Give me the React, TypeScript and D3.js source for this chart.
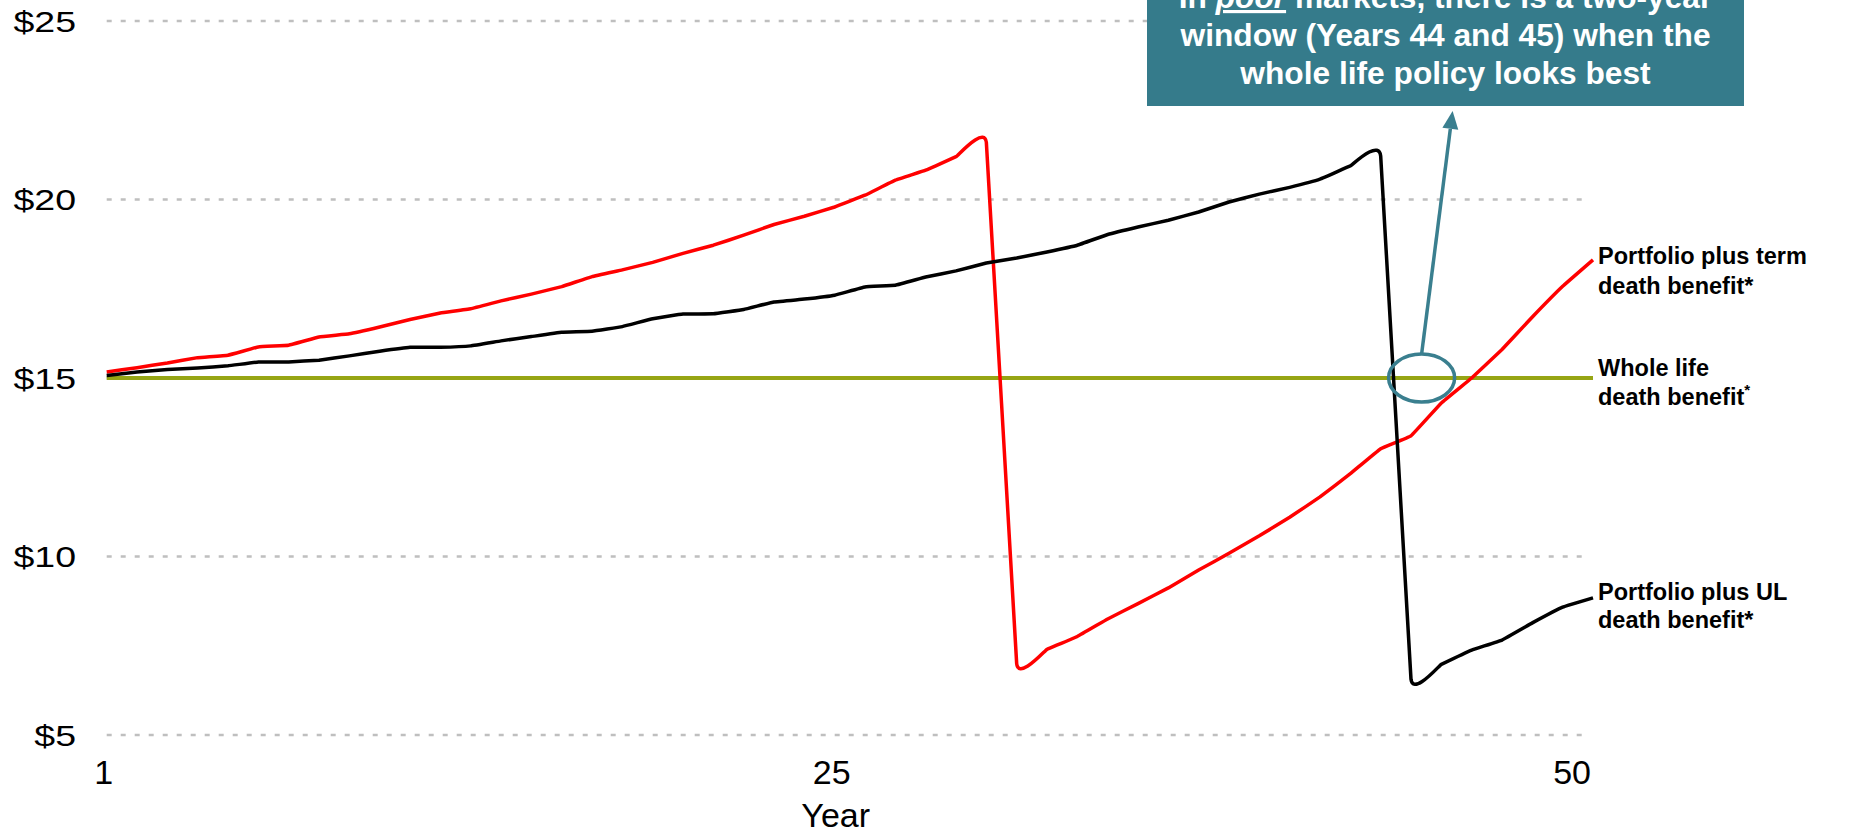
import React from 'react';
import * as d3 from 'd3';

const years = [1, 2, 3, 4, 5, 6, 7, 8, 9, 10, 11, 12, 13, 14, 15, 16, 17, 18, 19, 20, 21, 22, 23, 24, 25, 26, 27, 28, 29, 30, 31, 32, 33, 34, 35, 36, 37, 38, 39, 40, 41, 42, 43, 44, 45, 46, 47, 48, 49, 50];

const termValues = [15.17, 15.29, 15.42, 15.57, 15.64, 15.87, 15.92, 16.15, 16.24, 16.43, 16.64, 16.82, 16.94, 17.16, 17.35, 17.56, 17.84, 18.03, 18.24, 18.49, 18.72, 19.0, 19.3, 19.53, 19.79, 20.12, 20.54, 20.82, 21.2, 21.6, 7.0, 7.4, 7.76, 8.25, 8.68, 9.12, 9.62, 10.09, 10.58, 11.1, 11.67, 12.32, 13.02, 13.38, 14.3, 15.0, 15.8, 16.71, 17.57, 18.31];

const ulValues = [15.07, 15.17, 15.24, 15.28, 15.34, 15.45, 15.45, 15.5, 15.62, 15.75, 15.86, 15.86, 15.9, 16.04, 16.16, 16.28, 16.31, 16.44, 16.66, 16.79, 16.8, 16.92, 17.13, 17.21, 17.32, 17.55, 17.6, 17.83, 18.0, 18.22, 18.36, 18.53, 18.72, 19.02, 19.23, 19.42, 19.65, 19.93, 20.15, 20.34, 20.57, 20.94, 21.22, 6.56, 6.98, 7.38, 7.66, 8.14, 8.58, 8.84];

const wholeLifeValues = [15, 15, 15, 15, 15, 15, 15, 15, 15, 15, 15, 15, 15, 15, 15, 15, 15, 15, 15, 15, 15, 15, 15, 15, 15, 15, 15, 15, 15, 15, 15, 15, 15, 15, 15, 15, 15, 15, 15, 15, 15, 15, 15, 15, 15, 15, 15, 15, 15, 15];

const yTickValues = [5, 10, 15, 20, 25];
const xTickValues = [1, 25, 50];

const FONT = "'Liberation Sans', Arial, Helvetica, sans-serif";
const TEAL = '#357B8B';
const TEAL_LINE = '#3A7F8F';

export default function App() {
  const W = 1854;
  const H = 836;
  const x = d3.scaleLinear().domain([1, 50]).range([106.7, 1593]);
  const y = d3.scaleLinear().domain([5, 25]).range([735, 21]);

  const line = d3
    .line<number>()
    .x((_, i) => x(years[i]))
    .y((d) => y(d))
    .curve(d3.curveCardinal.tension(0.8));

  // annotation geometry
  const ellCx = x(44.35);
  const ellCy = y(15);
  const ellRx = 33;
  const ellRy = 24;
  const arrStart = { x: ellCx, y: ellCy - ellRy };
  const arrTip = { x: ellCx + 31, y: 111 };
  const dx = arrTip.x - arrStart.x;
  const dy = arrTip.y - arrStart.y;
  const len = Math.sqrt(dx * dx + dy * dy);
  const ux = dx / len;
  const uy = dy / len;
  const headLen = 18;
  const headHalf = 8;
  const baseX = arrTip.x - ux * headLen;
  const baseY = arrTip.y - uy * headLen;
  const head = [
    [arrTip.x, arrTip.y],
    [baseX - uy * headHalf, baseY + ux * headHalf],
    [baseX + uy * headHalf, baseY - ux * headHalf],
  ]
    .map((p) => p.join(','))
    .join(' ');

  const labelX = x(50) + 5;

  return (
    <svg
      width={W}
      height={H}
      style={{ position: 'absolute', left: 0, top: 0, background: '#fff' }}
      fontFamily={FONT}
    >
      {/* gridlines */}
      {yTickValues.map((t) => (
        <line
          key={'g' + t}
          x1={x(1)}
          x2={x(50) - 6}
          y1={y(t)}
          y2={y(t)}
          stroke="#BFBFBF"
          strokeWidth={2.5}
          strokeDasharray="5 9"
        />
      ))}
      {/* y tick labels */}
      {yTickValues.map((t) => (
        <g key={'yl' + t} transform={`translate(76, ${y(t)}) scale(1.25, 1)`}>
          <text x={0} y={10.5} textAnchor="end" fontSize={30} fill="#000">
            {'$' + t}
          </text>
        </g>
      ))}
      {/* x tick labels */}
      {xTickValues.map((t, i) => (
        <text
          key={'xl' + t}
          x={i === xTickValues.length - 1 ? x(t) - 2 : x(t) - 3}
          y={784}
          textAnchor={i === xTickValues.length - 1 ? 'end' : 'middle'}
          fontSize={34}
          fill="#000"
        >
          {t}
        </text>
      ))}
      <text x={x(25) + 1} y={827} textAnchor="middle" fontSize={34} fill="#000">
        Year
      </text>

      {/* series */}
      <path d={line(wholeLifeValues) || ''} fill="none" stroke="#96A514" strokeWidth={4} />
      <path d={line(termValues) || ''} fill="none" stroke="#FF0000" strokeWidth={3.5} strokeLinejoin="round" />
      <path d={line(ulValues) || ''} fill="none" stroke="#000" strokeWidth={3.5} strokeLinejoin="round" />

      {/* right labels */}
      <g fontWeight="bold" fontSize={23.5} fill="#000">
        <text x={labelX} y={y(termValues[49]) + 4}>Portfolio plus term</text>
        <text x={labelX} y={y(termValues[49]) + 34}>death benefit*</text>
        <text x={labelX} y={y(wholeLifeValues[49]) - 2}>Whole life</text>
        <text x={labelX} y={y(wholeLifeValues[49]) + 27}>
          death benefit
          <tspan fontSize={15} dy={-10}>*</tspan>
        </text>
        <text x={labelX} y={y(ulValues[49]) + 2}>Portfolio plus UL</text>
        <text x={labelX} y={y(ulValues[49]) + 30}>death benefit*</text>
      </g>

      {/* ellipse + arrow */}
      <ellipse cx={ellCx} cy={ellCy} rx={ellRx} ry={ellRy} fill="none" stroke={TEAL_LINE} strokeWidth={3.5} />
      <line x1={arrStart.x} y1={arrStart.y} x2={baseX} y2={baseY} stroke={TEAL_LINE} strokeWidth={3.5} />
      <polygon points={head} fill={TEAL_LINE} />

      {/* annotation box */}
      <rect x={1147} y={-20} width={597} height={126} fill={TEAL} />
      <g fill="#fff" fontWeight="bold" fontSize={31.7} textAnchor="middle">
        <text x={1445.5} y={8}>
          In{' '}
          <tspan fontStyle="italic" textDecoration="underline">
            poor
          </tspan>{' '}
          markets, there is a two-year
        </text>
        <text x={1445.5} y={45.7}>window (Years 44 and 45) when the</text>
        <text x={1445.5} y={83.5}>whole life policy looks best</text>
      </g>
    </svg>
  );
}
